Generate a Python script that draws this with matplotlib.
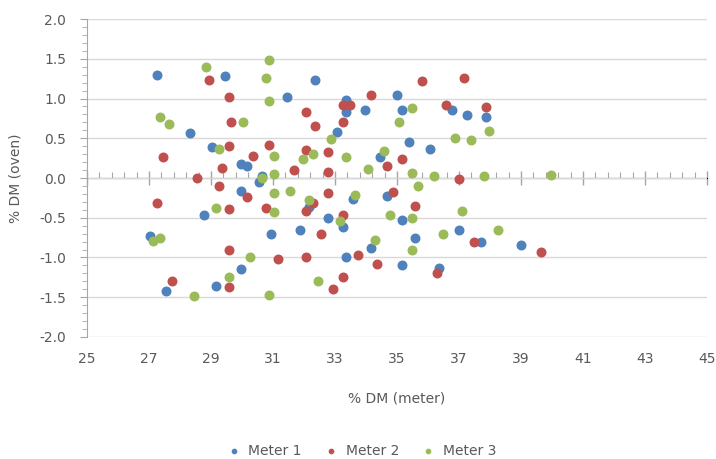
import numpy as np
import matplotlib.pyplot as plt
from matplotlib.ticker import MultipleLocator

# % DM (meter) vs difference % DM (oven), per meter
m1_x = [27.26, 29.44, 31.44, 28.33, 29.03, 29.97, 30.15, 30.63, 30.55, 29.97, 28.76, 30.95,
        27.03, 29.97, 29.16, 27.54, 32.37, 33.35, 33.35, 33.97, 34.99, 35.17, 36.77, 37.27,
        37.88, 33.07, 35.39, 36.06, 34.46, 32.15, 33.57, 34.68, 32.77, 35.17, 31.88, 33.27,
        35.57, 36.99, 34.15, 37.70, 33.35, 35.17, 36.37, 38.99]
m1_y = [1.29, 1.28, 1.02, 0.57, 0.39, 0.17, 0.15, 0.02, -0.05, -0.16, -0.47, -0.70,
        -0.73, -1.15, -1.36, -1.42, 1.23, 0.98, 0.83, 0.86, 1.05, 0.86, 0.86, 0.79,
        0.77, 0.58, 0.45, 0.37, 0.26, -0.36, -0.26, -0.23, -0.50, -0.53, -0.65, -0.62,
        -0.75, -0.65, -0.88, -0.81, -1.00, -1.10, -1.13, -0.84]

m2_x = [28.95, 29.57, 29.66, 29.57, 30.86, 27.45, 30.35, 29.35, 31.67, 28.54, 29.27, 30.16,
        27.26, 29.57, 30.76, 29.57, 31.16, 27.75, 29.57, 32.06, 32.37, 34.15, 33.27, 33.48,
        35.80, 37.17, 36.59, 37.88, 33.27, 32.06, 32.77, 35.17, 34.68, 32.77, 37.00, 32.77,
        34.86, 32.28, 32.06, 35.57, 33.27, 32.56, 37.48, 32.06, 33.75, 34.37, 36.28, 33.27,
        32.95, 39.64]
m2_y = [1.23, 1.02, 0.70, 0.40, 0.42, 0.26, 0.28, 0.12, 0.10, 0.00, -0.10, -0.24,
        -0.31, -0.39, -0.38, -0.90, -1.02, -1.30, -1.37, 0.83, 0.66, 1.05, 0.92, 0.92,
        1.22, 1.26, 0.92, 0.89, 0.70, 0.35, 0.33, 0.24, 0.15, 0.08, -0.01, -0.19,
        -0.18, -0.32, -0.41, -0.35, -0.46, -0.70, -0.81, -1.00, -0.97, -1.08, -1.20, -1.25,
        -1.40, -0.93]

m3_x = [28.85, 30.86, 30.76, 30.86, 27.34, 27.65, 30.04, 29.27, 31.04, 30.65, 31.04, 31.56,
        31.04, 29.16, 31.04, 27.13, 27.34, 30.25, 29.57, 28.45, 30.86, 35.48, 37.98, 32.86,
        35.07, 36.86, 37.39, 31.97, 32.28, 33.35, 34.59, 34.06, 35.48, 36.18, 37.80, 35.67,
        33.65, 39.97, 32.15, 34.77, 33.16, 35.48, 37.09, 36.47, 38.27, 34.28, 35.48, 32.46]
m3_y = [1.40, 1.49, 1.26, 0.97, 0.77, 0.68, 0.70, 0.36, 0.28, 0.00, 0.05, -0.16,
        -0.19, -0.38, -0.43, -0.79, -0.75, -1.00, -1.25, -1.49, -1.47, 0.88, 0.59, 0.49,
        0.70, 0.50, 0.48, 0.24, 0.30, 0.26, 0.34, 0.11, 0.06, 0.03, 0.03, -0.10,
        -0.21, 0.04, -0.28, -0.46, -0.54, -0.50, -0.42, -0.70, -0.65, -0.78, -0.90, -1.30]

x_ticks = np.arange(25, 46, 2)
y_ticks = np.arange(-2, 2.01, 0.5)

plt.rcParams['font.family'] = ['DejaVu Sans']
grey = '#595959'
axcol = '#A6A6A6'

fig = plt.figure(figsize=(7.16, 4.59), dpi=100)
ax = fig.add_axes([0.1215, 0.2658, 0.8659, 0.6928])

ax.scatter(m1_x, m1_y, s=38, color='#4F81BD', label='Meter 1', zorder=3)
ax.scatter(m2_x, m2_y, s=38, color='#C0504D', label='Meter 2', zorder=3)
ax.scatter(m3_x, m3_y, s=38, color='#9BBB59', label='Meter 3', zorder=3)

ax.set_xlim(25, 45)
ax.set_ylim(-2, 2)
ax.set_xticks(x_ticks)
ax.set_yticks(y_ticks)
ax.yaxis.set_major_formatter(plt.FormatStrFormatter('%.1f'))
ax.yaxis.set_minor_locator(MultipleLocator(0.1))
ax.grid(axis='y', color='#D9D9D9', linewidth=1)
ax.set_axisbelow(True)

for s in ['top', 'right', 'bottom']:
    ax.spines[s].set_visible(False)
ax.spines['left'].set_color(axcol)

ax.tick_params(axis='x', which='both', length=0, labelsize=10, labelcolor=grey, pad=11)
ax.tick_params(axis='y', which='major', length=5, color=axcol, labelsize=10,
               labelcolor=grey, pad=10)
ax.tick_params(axis='y', which='minor', length=3.5, color=axcol)

# horizontal axis line crossing at y = 0
sec = ax.secondary_xaxis(0.5)
sec.set_xticks(x_ticks, labels=[''] * len(x_ticks))
sec.xaxis.set_minor_locator(MultipleLocator(0.4, offset=0.2))
sec.tick_params(which='major', direction='inout', length=10, width=1, color=axcol)
sec.tick_params(which='minor', direction='out', length=4, width=0.8, color=axcol)
sec.spines['bottom'].set_color(axcol)

ax.set_xlabel('% DM (meter)', fontsize=10, color=grey, labelpad=18)
ax.set_ylabel('% DM (oven)', fontsize=10, color=grey, labelpad=12)

fig.legend(loc='lower center', bbox_to_anchor=(0.5, -0.025), ncol=3, frameon=False,
           fontsize=10, labelcolor=grey, markerscale=0.5, handletextpad=0.05,
           columnspacing=1.1)

fig.savefig('out.png', dpi=100, facecolor='white')
